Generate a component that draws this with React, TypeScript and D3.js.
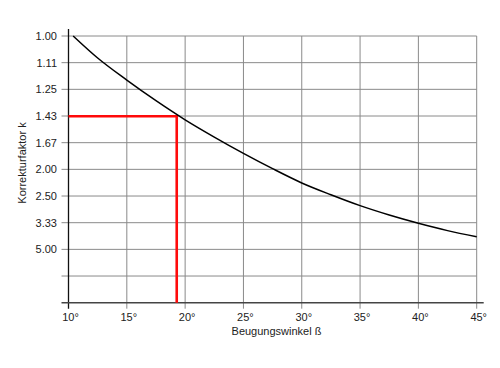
import React, { useEffect, useRef } from 'react';
import * as d3 from 'd3';

// angle (degrees) vs correction factor k
const angles = [10.4, 12.5, 15, 17.5, 20, 22.5, 25, 27.5, 30, 32.5, 35, 37.5, 40, 42.5, 45];
const kValues = [1.0, 1.09, 1.198, 1.32, 1.458, 1.61, 1.786, 1.99, 2.227, 2.47, 2.747, 3.04, 3.356, 3.7, 4.05];

const xTicks = [10, 15, 20, 25, 30, 35, 40, 45];
// y axis is linear in 1/k; 1/k = 1.0, 0.9, ... 0.1, 0
const invTicks = [1.0, 0.9, 0.8, 0.7, 0.6, 0.5, 0.4, 0.3, 0.2, 0.1, 0];
const yTickLabels = ['1.00', '1.11', '1.25', '1.43', '1.67', '2.00', '2.50', '3.33', '5.00', '', ''];

const markAngle = 19.28;
const markK = 1.43;

export default function App() {
  const ref = useRef<SVGSVGElement>(null);

  useEffect(() => {
    if (!ref.current) return;
    const svg = d3.select(ref.current);
    svg.selectAll('*').remove();

    const x = d3.scaleLinear().domain([10, 45]).range([68.5, 476.7]);
    const y = d3.scaleLinear().domain([0, 1]).range([302.7, 36]);
    const font = 'Liberation Sans, Arial, Helvetica, sans-serif';

    // horizontal grid lines (with outward ticks)
    svg.append('g')
      .selectAll('line')
      .data(invTicks.slice(0, -1))
      .enter().append('line')
      .attr('x1', x(10) - 7)
      .attr('x2', x(45))
      .attr('y1', d => y(d))
      .attr('y2', d => y(d))
      .attr('stroke', '#8a8a8a')
      .attr('stroke-width', 1);

    // vertical grid lines
    svg.append('g')
      .selectAll('line')
      .data(xTicks.slice(1))
      .enter().append('line')
      .attr('x1', d => x(d))
      .attr('x2', d => x(d))
      .attr('y1', y(1))
      .attr('y2', y(0) + 6)
      .attr('stroke', '#8a8a8a')
      .attr('stroke-width', 1);

    // axes
    svg.append('line')
      .attr('x1', x(10)).attr('x2', x(10))
      .attr('y1', y(1) - 7).attr('y2', y(0) + 6)
      .attr('stroke', '#111').attr('stroke-width', 1.3);
    svg.append('line')
      .attr('x1', x(10) - 7).attr('x2', x(45) + 7)
      .attr('y1', y(0)).attr('y2', y(0))
      .attr('stroke', '#444').attr('stroke-width', 1.5);

    // tick labels
    svg.append('g')
      .selectAll('text')
      .data(invTicks)
      .enter().append('text')
      .attr('x', 57)
      .attr('y', d => y(d) + 4)
      .attr('text-anchor', 'end')
      .attr('font-family', font)
      .attr('font-size', 11)
      .attr('fill', '#222')
      .text((d, i) => yTickLabels[i]);

    svg.append('g')
      .selectAll('text')
      .data(xTicks)
      .enter().append('text')
      .attr('x', d => x(d) + 2)
      .attr('y', 321)
      .attr('text-anchor', 'middle')
      .attr('font-family', font)
      .attr('font-size', 11)
      .attr('fill', '#222')
      .text(d => `${d}°`);

    // axis titles
    svg.append('text')
      .attr('x', 276.5)
      .attr('y', 335)
      .attr('text-anchor', 'middle')
      .attr('font-family', font)
      .attr('font-size', 11)
      .attr('fill', '#222')
      .text('Beugungswinkel ß');

    svg.append('text')
      .attr('transform', 'translate(26,163) rotate(-90)')
      .attr('text-anchor', 'middle')
      .attr('font-family', font)
      .attr('font-size', 11)
      .attr('fill', '#222')
      .text('Korrekturfaktor k');

    // red marker lines
    svg.append('path')
      .attr('d', `M${x(10)},${y(1 / markK)} H${x(markAngle)} V${y(0)}`)
      .attr('fill', 'none')
      .attr('stroke', '#ff0a0a')
      .attr('stroke-width', 2.6);

    // curve
    const pts = angles.map((a, i) => [a, kValues[i]] as [number, number]);
    const line = d3.line<[number, number]>()
      .x(d => x(d[0]))
      .y(d => y(1 / d[1]))
      .curve(d3.curveMonotoneX);
    svg.append('path')
      .datum(pts)
      .attr('d', line)
      .attr('fill', 'none')
      .attr('stroke', '#000')
      .attr('stroke-width', 1.5);
  }, []);

  return (
    <svg
      ref={ref}
      width={500}
      height={368}
      style={{ position: 'absolute', left: 0, top: 0, background: '#fff' }}
    />
  );
}
